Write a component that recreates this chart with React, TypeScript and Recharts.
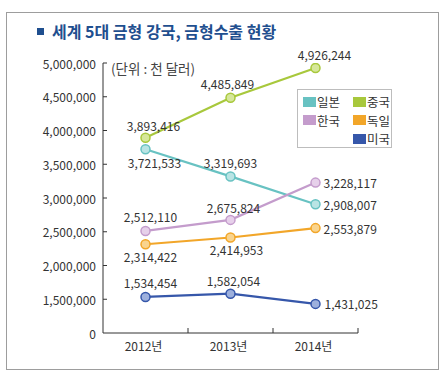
import React from 'react';
import { LineChart, Line, XAxis, YAxis, LabelList } from 'recharts';

const years = ['2012년', '2013년', '2014년'];
const japan = [3721533, 3319693, 2908007];
const china = [3893416, 4485849, 4926244];
const korea = [2512110, 2675824, 3228117];
const germany = [2314422, 2414953, 2553879];
const usa = [1534454, 1582054, 1431025];
const yTicks = [1000000, 1500000, 2000000, 2500000, 3000000, 3500000, 4000000, 4500000, 5000000];
const xTicks = [0.5, 1, 1.5, 2, 2.5, 3];

const Y_MIN = 1000000;
const Y_MAX = 5000000;

const data = years.map((y, i) => ({
  x: i + 0.5,
  year: y,
  japan: japan[i],
  china: china[i],
  korea: korea[i],
  germany: germany[i],
  usa: usa[i],
}));

type LabelPlace = [number, number, 'start' | 'middle' | 'end'];

const series: { key: string; name: string; color: string; fill: string; labels: LabelPlace[] }[] = [
  { key: 'china', name: '중국', color: '#A8C83C', fill: '#D6E79A', labels: [[8, -12, 'middle'], [-3, -14, 'middle'], [9, -13, 'middle']] },
  { key: 'japan', name: '일본', color: '#68C2C2', fill: '#B9E4E4', labels: [[9, 13, 'middle'], [0, -14, 'middle'], [8, 0, 'start']] },
  { key: 'korea', name: '한국', color: '#C49CCC', fill: '#E6D0EA', labels: [[5, -14, 'middle'], [3, -12, 'middle'], [8, 0, 'start']] },
  { key: 'germany', name: '독일', color: '#F2A629', fill: '#F9D48E', labels: [[5, 12, 'middle'], [6, 12, 'middle'], [8, 0, 'start']] },
  { key: 'usa', name: '미국', color: '#3657AA', fill: '#9DB0DD', labels: [[5, -14, 'middle'], [3, -13, 'middle'], [9, 0, 'start']] },
];

const legendGrid: (string | null)[][] = [
  ['japan', 'china'],
  ['korea', 'germany'],
  [null, 'usa'],
];

const FONT = '"Noto Sans CJK KR", "Noto Sans", sans-serif';
const fmt = (v: number) => v.toLocaleString('en-US');

const YTick = (props: any) => {
  const { x, y, payload } = props;
  const v = payload.value as number;
  return (
    <g>
      {v !== Y_MIN && <line x1={x} x2={x + 4} y1={y} y2={y} stroke="#333" strokeWidth={1} />}
      <text x={x - 7} y={y} textAnchor="end" dominantBaseline="central" fontSize={12} fill="#333" fontFamily={FONT}>
        {v === Y_MIN ? '0' : fmt(v)}
      </text>
    </g>
  );
};

const XTick = (props: any) => {
  const { x, y, payload } = props;
  const v = payload.value as number;
  if (Number.isInteger(v)) {
    return <line x1={x} x2={x} y1={y} y2={y - 5} stroke="#333" strokeWidth={1} />;
  }
  const label = years[Math.floor(v)];
  return (
    <text x={x - 2} y={y + 12} textAnchor="middle" dominantBaseline="central" fontSize={12} fill="#333" fontFamily={FONT}>
      {label}
    </text>
  );
};

const makeLabel = (places: LabelPlace[]) => (props: any) => {
  const { x, y, value, index } = props;
  const [dx, dy, anchor] = places[index];
  return (
    <text x={x + dx} y={y + dy} textAnchor={anchor} dominantBaseline="central" fontSize={12} fill="#333" fontFamily={FONT}>
      {fmt(value)}
    </text>
  );
};

const LegendBox = () => (
  <div
    style={{
      position: 'absolute', left: 297, top: 89, width: 95, height: 59, border: '1px solid #bdbdbd',
      background: '#fff', boxSizing: 'border-box', fontFamily: FONT, fontSize: 12.5, color: '#333',
    }}
  >
    {legendGrid.map((row, r) =>
      row.map((k, c) => {
        if (!k) return null;
        const s = series.find((d) => d.key === k)!;
        return (
          <div
            key={k}
            style={{ position: 'absolute', left: 5 + c * 50, top: 3 + r * 18.5, display: 'flex', alignItems: 'center', height: 17, lineHeight: '17px', whiteSpace: 'nowrap' }}
          >
            <span style={{ display: 'inline-block', width: 13, height: 10, background: s.color, marginRight: 1 }} />
            <span style={{ fontSize: 12.5, lineHeight: '17px' }}>{s.name}</span>
          </div>
        );
      })
    )}
  </div>
);

export default function App() {
  return (
    <div style={{ position: 'absolute', left: 0, top: 0, width: 447, height: 385, background: '#fff', fontFamily: FONT }}>
      <div style={{ position: 'absolute', left: 6, top: 12, width: 431, height: 356, border: '1.5px solid #9d9d9d' }} />
      <div style={{ position: 'absolute', left: 37, top: 28, width: 7, height: 7, background: '#1F4F8F' }} />
      <div style={{ position: 'absolute', left: 52, top: 20, fontSize: 16, fontWeight: 700, color: '#1F4F8F', lineHeight: '22px', whiteSpace: 'nowrap' }}>
        세계 5대 금형 강국, 금형수출 현황
      </div>
      <div style={{ position: 'absolute', left: 111, top: 58, fontSize: 13.5, color: '#444', lineHeight: '20px', whiteSpace: 'nowrap' }}>
        (단위 : 천 달러)
      </div>
      <div style={{ position: 'absolute', left: 0, top: 0 }}>
        <LineChart width={447} height={385} data={data} margin={{ top: 63, right: 89, bottom: 22, left: 63 }}>
          <XAxis
            dataKey="x"
            type="number"
            domain={[0, 3]}
            ticks={xTicks}
            interval={0}
            height={30}
            tickSize={0}
            tickMargin={0}
            tickLine={false}
            axisLine={{ stroke: '#333', strokeWidth: 1 }}
            tick={<XTick />}
          />
          <YAxis
            type="number"
            domain={[Y_MIN, Y_MAX]}
            ticks={yTicks}
            interval={0}
            width={40}
            tickSize={0}
            tickMargin={0}
            tickLine={false}
            allowDataOverflow
            axisLine={{ stroke: '#333', strokeWidth: 1 }}
            tick={<YTick />}
          />
          {series.map((s) => (
            <Line
              key={s.key}
              dataKey={s.key}
              name={s.name}
              stroke={s.color}
              strokeWidth={2.2}
              isAnimationActive={false}
              dot={{ r: 4.5, stroke: s.color, strokeWidth: 1.5, fill: s.fill }}
              activeDot={false}
            >
              <LabelList dataKey={s.key} content={makeLabel(s.labels)} />
            </Line>
          ))}
        </LineChart>
      </div>
      <LegendBox />
    </div>
  );
}
